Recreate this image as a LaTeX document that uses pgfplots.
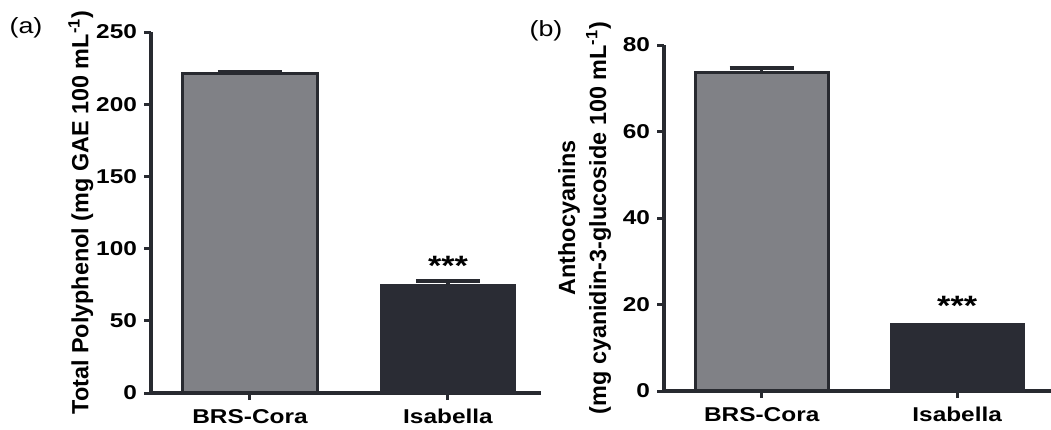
\documentclass[border=0pt]{standalone}
\usepackage{fontspec}
\setmainfont{Liberation Sans}
\newfontfamily\widefont[FakeStretch=1.22]{Liberation Sans}
\usepackage{pgfplots}
\pgfplotsset{compat=1.18}

\definecolor{barlight}{RGB}{128,129,134}
\definecolor{bardark}{RGB}{42,44,52}
\definecolor{edge}{RGB}{40,42,48}

\pgfplotsset{
  panel/.style={
    scale only axis,
    anchor=south west,
    ybar,
    bar width=0.68,
    axis x line*=bottom,
    axis y line*=left,
    axis line style={line width=1.7pt, edge, -},
    tick align=outside,
    major tick length=3.5pt,
    tick style={line width=1.5pt, edge},
    xtick={0,1},
    xticklabels={BRS-Cora,Isabella},
    ymin=0,
    /pgf/number format/assume math mode=true,
    ticklabel style={font=\widefont\bfseries\fontsize{10}{11}\selectfont},
    xticklabel style={yshift=-1pt},
    ylabel style={font=\bfseries\fontsize{11.7}{15.5}\selectfont, align=center, anchor=center},
  },
  errstyle/.style={
    error bars/.cd, y dir=plus, y explicit,
    error bar style={line width=1.6pt, edge},
    error mark options={rotate=90, mark size=16pt, line width=2pt, edge},
  },
}

\begin{document}
\begin{tikzpicture}
\useasboundingbox (0,0) rectangle (525.5pt,-214.5pt);

% panel (a)
\begin{axis}[panel,
  at={(75.5pt,-196.5pt)},
  width=195pt, height=180.5pt,
  xmin=-0.5, xmax=1.47,
  ymax=250, ytick={0,50,...,250},
  ylabel={Total Polyphenol (mg GAE 100 mL\textsuperscript{-1})},
  ylabel style={at={(axis description cs:-0.18,0.5)}},
]
\addplot[bar shift=0pt, fill=barlight, draw=edge, line width=1.6pt, errstyle]
  coordinates {(0,221) +- (0,1.5)};
\addplot[bar shift=0pt, fill=bardark, draw=bardark, line width=1pt, errstyle]
  coordinates {(1,74.5) +- (0,2.8)};
\node[font=\widefont\bfseries\fontsize{14}{14}\selectfont, anchor=center] at (axis cs:1,88) {***};
\end{axis}

% panel (b)
\begin{axis}[panel,
  at={(332pt,-195.5pt)},
  width=193.5pt, height=173pt,
  xmin=-0.5, xmax=1.48,
  ymax=80, ytick={0,20,...,80},
  ylabel={Anthocyanins\\(mg cyanidin-3-glucoside 100 mL\textsuperscript{-1})},
  ylabel style={at={(axis description cs:-0.205,0.5)}},
]
\addplot[bar shift=0pt, fill=barlight, draw=edge, line width=1.6pt, errstyle]
  coordinates {(0,73.7) +- (0,0.9)};
\addplot[bar shift=0pt, fill=bardark, draw=bardark, line width=1pt]
  coordinates {(1,15.6)};
\node[font=\widefont\bfseries\fontsize{14}{14}\selectfont, anchor=center] at (axis cs:1,19.8) {***};
\end{axis}

\node[font=\widefont\fontsize{11}{11}\selectfont, anchor=center] at (13pt,-14pt) {(a)};
\node[font=\widefont\fontsize{11}{11}\selectfont, anchor=center] at (273pt,-15.5pt) {(b)};
\end{tikzpicture}
\end{document}
